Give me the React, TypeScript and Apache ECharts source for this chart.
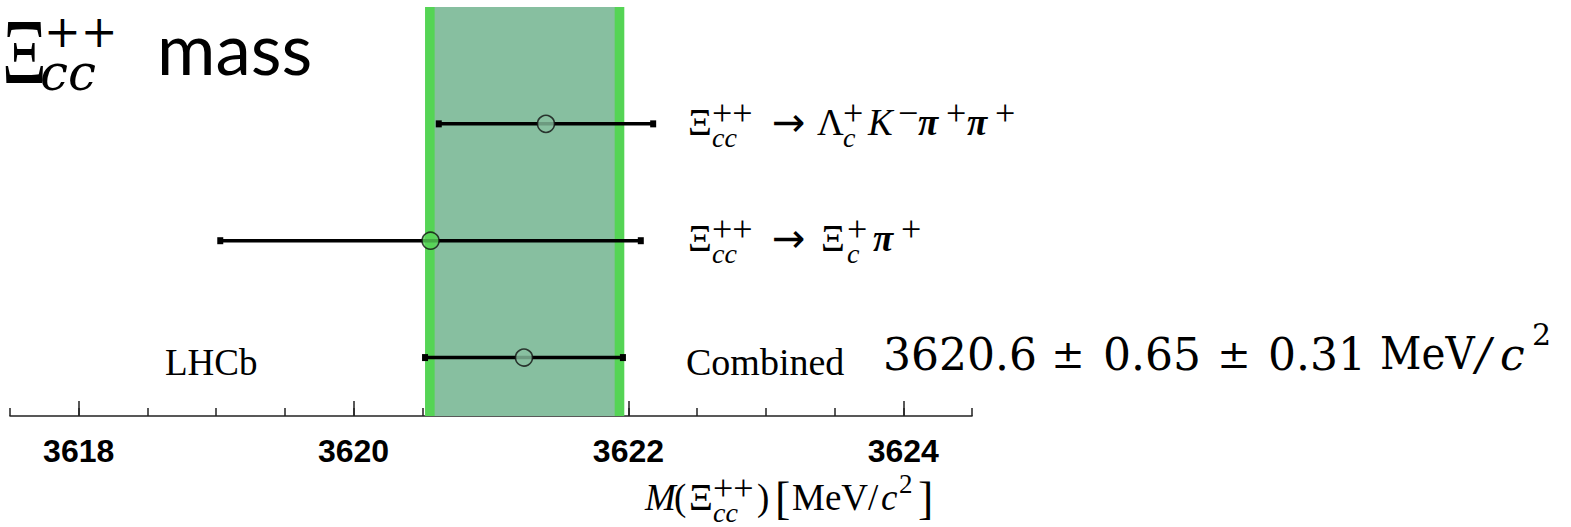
import React, { useEffect, useRef } from "react";
import * as echarts from "echarts";

// ---- data ----
const channels = ["Ξcc++ → Λc+ K− π+ π+", "Ξcc++ → Ξc+ π+", "Combined"];
const rowPos = [2.5, 1.5, 0.5];
const masses = [3621.4, 3620.56, 3621.24];
const errors = [0.78, 1.53, 0.72];
const markerFills = ["#88c0a0", "#58d458", "#88c0a0"];
const bandOuter = [3620.52, 3621.97];
const bandInner = [3620.59, 3621.9];
const xMin = 3617.5;
const xMax = 3624.5;
const minorTicks = [3617.5, 3618, 3618.5, 3619, 3619.5, 3620, 3620.5, 3621, 3621.5, 3622, 3622.5, 3623, 3623.5, 3624, 3624.5];
const majorTicks = [3618, 3620, 3622, 3624];

const SERIF = "Liberation Serif";

type Opt = { f?: string; it?: boolean; b?: boolean; al?: string; sx?: number };
const T = (t: string, x: number, y: number, s: number, o: Opt = {}) => ({
  type: "text",
  x,
  y,
  scaleX: o.sx || 1,
  scaleY: 1,
  silent: true,
  style: {
    text: t,
    fontSize: s,
    fontFamily: o.f || SERIF,
    fontStyle: o.it ? "italic" : "normal",
    fontWeight: o.b ? "bold" : "normal",
    fill: "#000",
    align: o.al || "left",
    verticalAlign: "middle",
  },
});

const shift = (els: any[], dx: number, dy: number) =>
  els.map((e) => ({ ...e, x: e.x + dx, y: e.y + dy }));

const SUP = 36;
const SUB = 28;
const UP = -9;
const DN = 15;

// Xi_cc^{++} prefix
const xiCC = () => [
  T("Ξ", 0, 0, 37),
  T("++", 24, UP, SUP),
  T("cc", 24, DN, SUB, { it: true }),
];

const arrow = (x: number) => T("→", x, 0, 40, { f: "DejaVu Sans" });

const label1 = shift(
  [
    ...xiCC(),
    arrow(84),
    T("Λ", 129, 0, 37),
    T("c", 155, DN, SUB, { it: true }),
    T("+", 155, UP, SUP),
    T("K", 180, 0, 37, { it: true }),
    T("−", 210, UP, SUP),
    T("π", 230, 0, 37, { it: true, b: true }),
    T("+", 258, UP, SUP),
    T("π", 279, 0, 37, { it: true, b: true }),
    T("+", 307, UP, SUP),
  ],
  688,
  122
);

const label2 = shift(
  [
    ...xiCC(),
    arrow(84),
    T("Ξ", 133, 0, 37),
    T("c", 159, DN, SUB, { it: true }),
    T("+", 159, UP, SUP),
    T("π", 185, 0, 37, { it: true, b: true }),
    T("+", 213, UP, SUP),
  ],
  688,
  238
);

const axisTitle = [
  T("M", 645, 497, 37, { it: true }),
  T("(", 674, 497, 37),
  T("Ξ", 689, 497, 37),
  T("++", 713, 488, SUP),
  T("cc", 713, 512, SUB, { it: true }),
  T(")", 757, 497, 37),
  T("[", 775, 498, 46),
  T("MeV/", 792, 497, 37),
  T("c", 881, 497, 37, { it: true }),
  T("2", 899, 484, 27),
  T("]", 918, 498, 46),
];

const R = "DejaVu Serif";
const result = [
  T("3620.6", 883, 354, 44, { f: R }),
  T("±", 1068, 354, 40, { f: R, al: "center" }),
  T("0.65", 1103, 354, 44, { f: R }),
  T("±", 1234, 354, 40, { f: R, al: "center" }),
  T("0.31", 1268, 354, 44, { f: R }),
  T("MeV", 1380, 354, 44, { f: R, sx: 0.92 }),
  T("/", 1476, 354, 44, { f: R, it: true }),
  T("c", 1500, 354, 44, { f: R, it: true }),
  T("2", 1532, 334, 30, { f: R }),
];

const title = [
  T("Ξ", 2, 51, 94, { sx: 0.74 }),
  T("++", 44, 31, 44, { f: R }),
  T("cc", 40, 73, 50, { f: R, it: true }),
  T("mass", 157, 47, 71, { f: "Lato" }),
];

export default function App() {
  const ref = useRef<HTMLDivElement>(null);
  useEffect(() => {
    if (!ref.current) return;
    const chart = echarts.init(ref.current, undefined, { renderer: "svg" });
    const rows = masses.map((m, i) => [m, rowPos[i], errors[i]]);
    chart.setOption({
      animation: false,
      backgroundColor: "#ffffff",
      grid: { left: 10, right: 599, top: 7, bottom: 111, containLabel: false },
      xAxis: [
        {
          type: "value",
          min: xMin,
          max: xMax,
          position: "bottom",
          axisLine: { show: true, lineStyle: { color: "#222", width: 1.6 } },
          axisTick: { show: true, inside: true, length: 8, customValues: minorTicks, lineStyle: { color: "#222", width: 1.5 } },
          axisLabel: { show: false },
          splitLine: { show: false },
        },
        {
          type: "value",
          min: xMin,
          max: xMax,
          position: "bottom",
          axisLine: { show: false },
          axisTick: { show: true, inside: true, length: 15, customValues: majorTicks, lineStyle: { color: "#222", width: 1.5 } },
          axisLabel: {
            show: true,
            customValues: majorTicks,
            formatter: (v: number) => String(v),
            fontFamily: "Liberation Sans",
            fontWeight: "bold",
            fontSize: 32,
            color: "#000",
            margin: 19,
          },
          splitLine: { show: false },
        },
      ],
      yAxis: { type: "value", min: 0, max: 3.5, show: false },
      series: [
        {
          type: "custom",
          name: "errors",
          xAxisIndex: 0,
          data: rows,
          z: 3,
          renderItem: (_p: any, api: any) => {
            const v = api.value(0);
            const y = api.value(1);
            const e = api.value(2);
            const lo = api.coord([v - e, y]);
            const hi = api.coord([v + e, y]);
            return {
              type: "group",
              children: [
                { type: "line", shape: { x1: lo[0], y1: lo[1], x2: hi[0], y2: hi[1] }, style: { stroke: "#000", lineWidth: 3.5 } },
                { type: "rect", shape: { x: lo[0] - 3, y: lo[1] - 3.5, width: 6, height: 7 }, style: { fill: "#000" } },
                { type: "rect", shape: { x: hi[0] - 3, y: hi[1] - 3.5, width: 6, height: 7 }, style: { fill: "#000" } },
              ],
            };
          },
          markArea: {
            silent: true,
            data: [
              [{ xAxis: bandOuter[0], itemStyle: { color: "#55d455", opacity: 1 } }, { xAxis: bandOuter[1] }],
              [{ xAxis: bandInner[0], itemStyle: { color: "#87bfa0", opacity: 1 } }, { xAxis: bandInner[1] }],
            ],
          },
        },
        {
          type: "scatter",
          name: "mass",
          xAxisIndex: 0,
          z: 5,
          symbol: "circle",
          symbolSize: 17,
          data: masses.map((m, i) => ({
            name: channels[i],
            value: [m, rowPos[i]],
            itemStyle: { color: markerFills[i], borderColor: "#111", borderWidth: 1.6 },
          })),
        },
      ],
      graphic: [
        ...title,
        ...label1,
        ...label2,
        T("LHCb", 165, 362, 37),
        T("Combined", 686, 362, 38),
        ...result,
        ...axisTitle,
      ],
    });
    return () => chart.dispose();
  }, []);
  return (
    <div
      ref={ref}
      style={{ position: "fixed", left: 0, top: 0, width: 1571, height: 527, background: "#fff" }}
    />
  );
}
